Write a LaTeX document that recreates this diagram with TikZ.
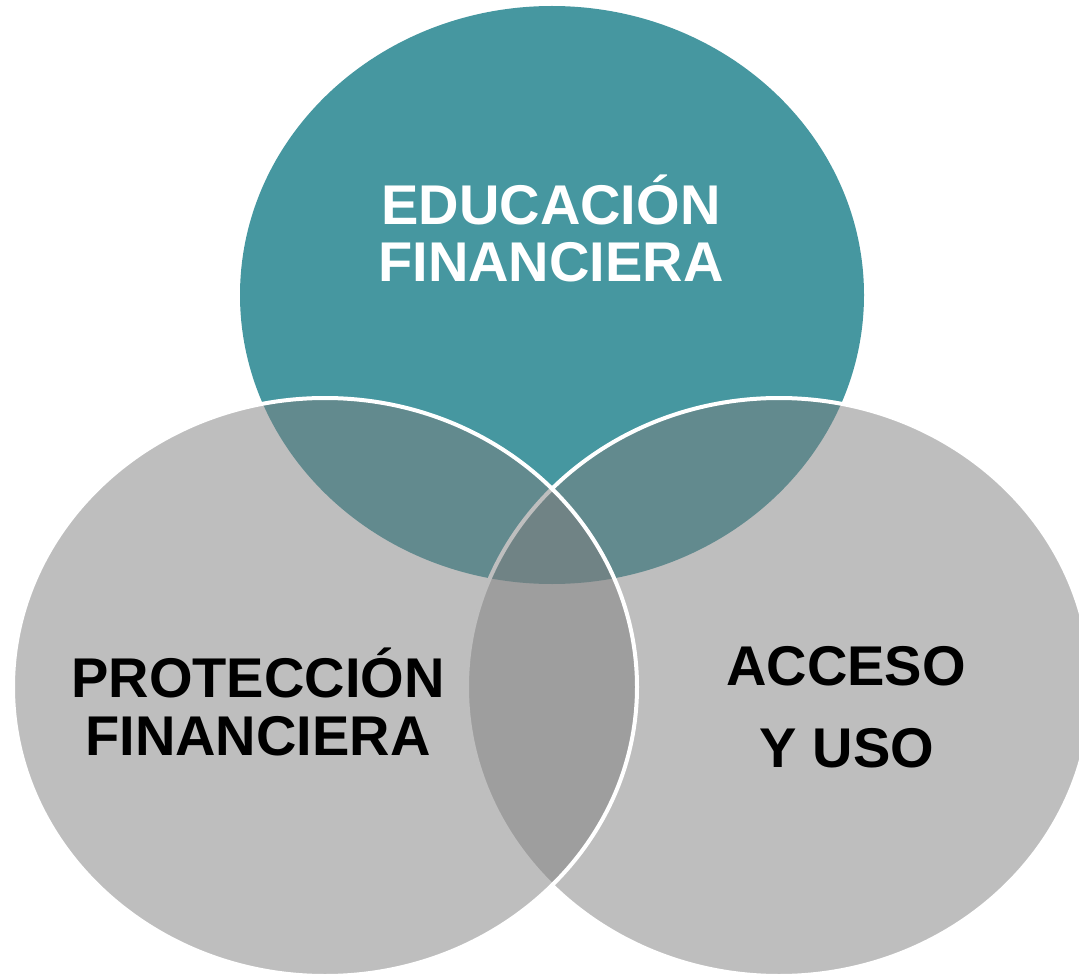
\documentclass[tikz,border=0pt]{standalone}
\usepackage{fontspec}
\setmainfont{Liberation Sans}
\usetikzlibrary{shapes.geometric}
\definecolor{eduTeal}{RGB}{70,151,160}
\definecolor{setGrey}{RGB}{126,126,126}

\begin{document}
\begin{tikzpicture}[x=1pt, y=-1pt,
    setNode/.style={ellipse, minimum width=624pt, minimum height=578pt, inner sep=0pt, outer sep=0pt},
    eduNode/.style={setNode, fill=eduTeal},
    greyNode/.style={setNode, fill=setGrey, fill opacity=0.5, draw=white, line width=4pt},
    lbl/.style={anchor=base, inner sep=0pt, font=\fontsize{56}{60}\selectfont\bfseries}
]
    \useasboundingbox (0,0) rectangle (1079,976);
    \clip (0,0) rectangle (1079,976);
    % the three sets
    \node[eduNode] (E) at (552,295) {};
    \node[greyNode] (A) at (779,687) {};
    \node[greyNode] (P) at (325,687) {};

    % labels
    \node[lbl, text=white] (E1) at (551,225) {EDUCACIÓN};
    \node[lbl, text=white] (E2) at (551,282) {FINANCIERA};
    \node[lbl] (P1) at (258,697) {PROTECCIÓN};
    \node[lbl] (P2) at (258,755) {FINANCIERA};
    \node[lbl] (A1) at (846,685) {ACCESO};
    \node[lbl] (A2) at (847,767) {Y USO};
\end{tikzpicture}
\end{document}
